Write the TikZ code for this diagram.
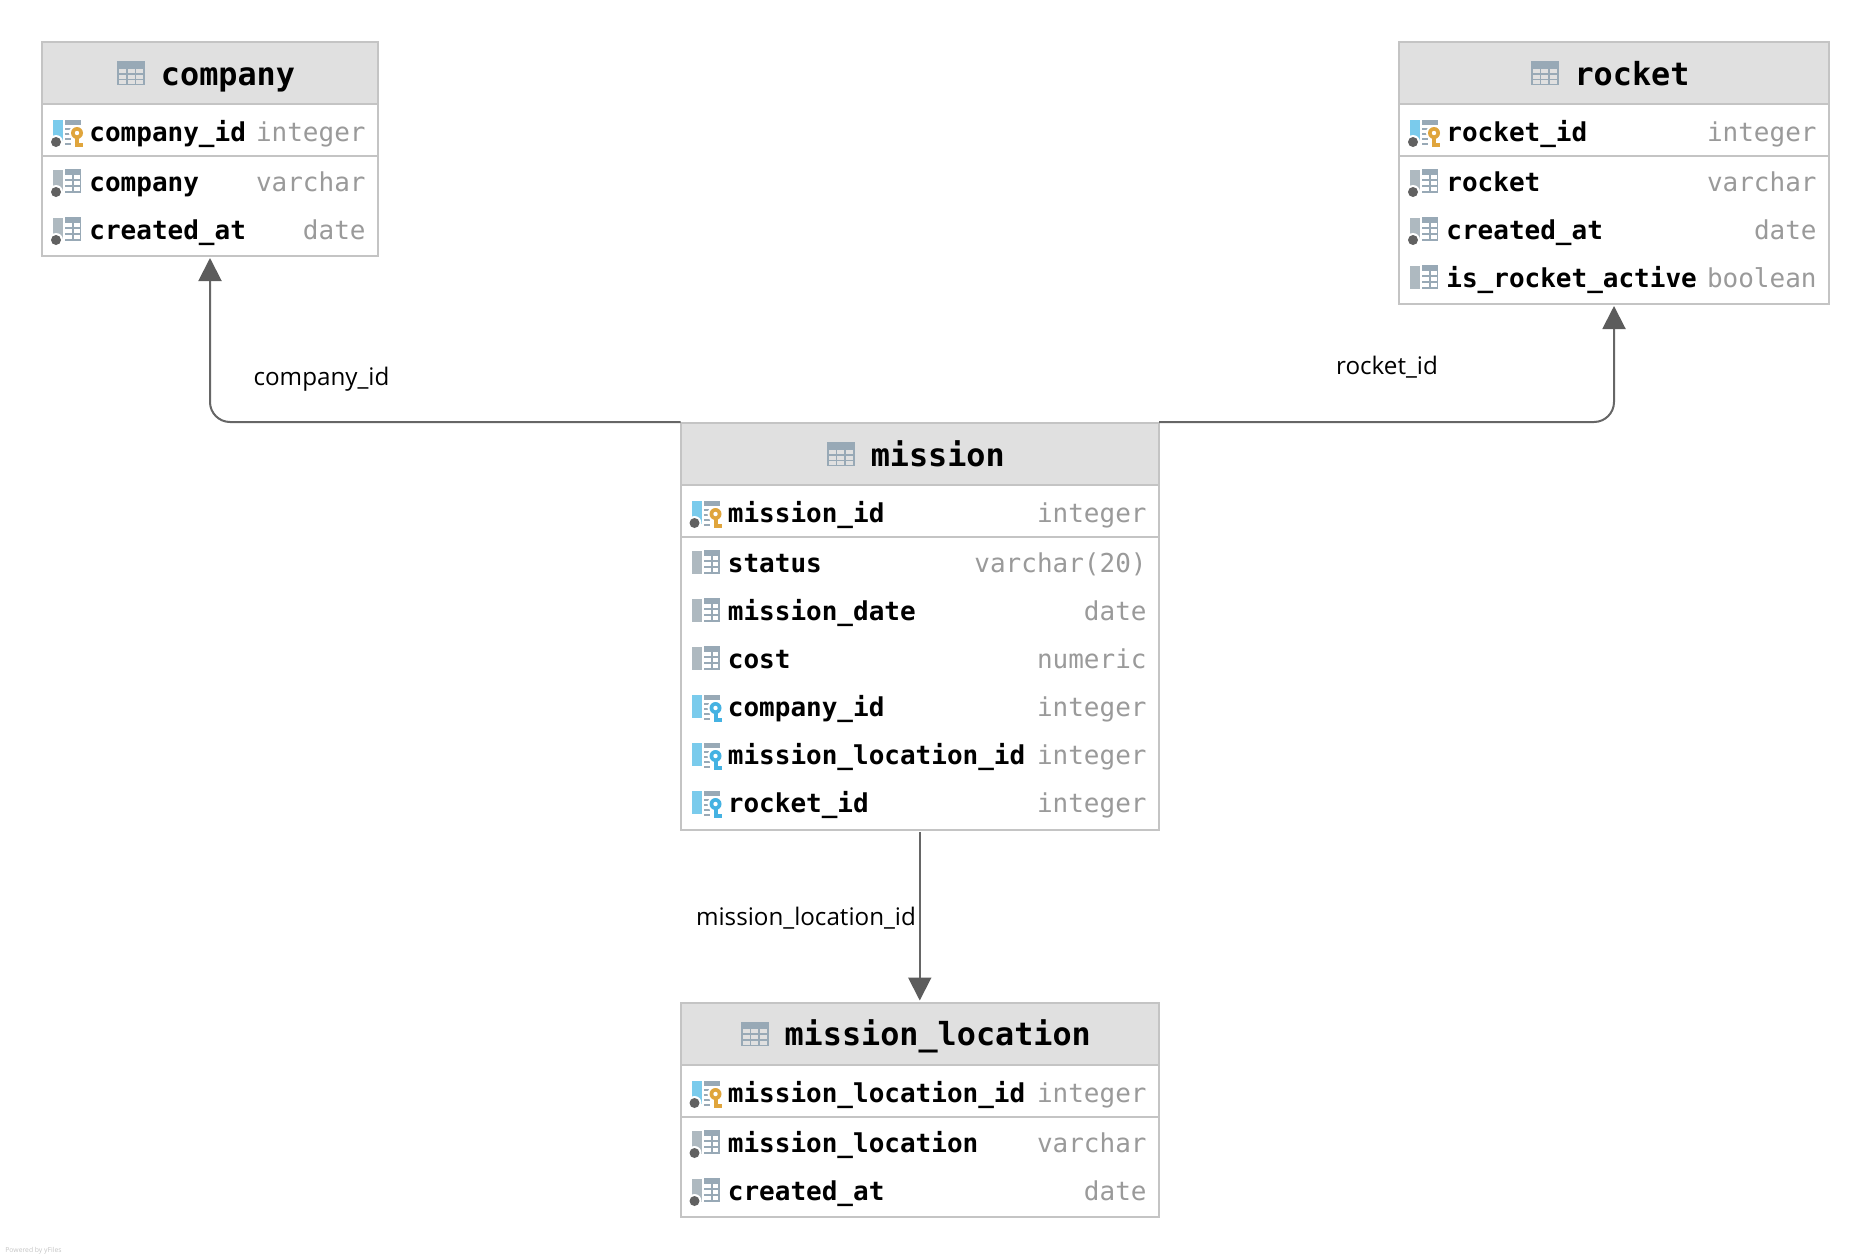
\documentclass[tikz,border=0pt]{standalone}
\usepackage{fontspec}
\usetikzlibrary{calc,arrows.meta}
\setmainfont{Open Sans}
\newfontfamily\erdmono{DejaVu Sans Mono}

\definecolor{boxgray}{HTML}{C4C4C4}
\definecolor{headgray}{HTML}{E0E0E0}
\definecolor{typegray}{HTML}{9A9A9A}
\definecolor{linkgray}{HTML}{666666}
\definecolor{tipgray}{HTML}{5C5C5C}
\definecolor{slate}{HTML}{98A9B6}
\definecolor{barslate}{HTML}{AEB9C0}
\definecolor{barblue}{HTML}{7ACBEC}
\definecolor{keygold}{HTML}{E0A53C}
\definecolor{keyblue}{HTML}{45B2E2}
\definecolor{dotgray}{HTML}{616161}

\tikzset{
  tablebody/.style={draw=boxgray,line width=1pt,fill=white,anchor=north west,inner sep=0pt,outer sep=0pt},
  tablehead/.style={tablebody,fill=headgray},
  titletext/.style={anchor=base,inner sep=0pt,font=\erdmono\bfseries\fontsize{15.9}{18}\selectfont},
  collabel/.style={anchor=base west,inner sep=0pt,font=\erdmono\bfseries\fontsize{13}{15}\selectfont},
  coltype/.style={anchor=base east,inner sep=0pt,text=typegray,font=\erdmono\fontsize{13}{15}\selectfont},
  fklink/.style={draw=linkgray,line width=1pt,rounded corners=10pt,shorten >=1pt,
    -{Triangle[length=11.5pt,width=11.5pt,color=tipgray]}},
  linklabel/.style={anchor=base,inner sep=0pt,font=\fontsize{12.1}{14}\selectfont},
}

% icon parts, origin at left edge of the table and baseline of the row
\newcommand{\colbar}[1]{\fill[#1] (11,-21) rectangle (21,2);}
\newcommand{\coldot}{\fill[white] (14,1) circle (7); \fill[dotgray] (14,1) circle (5);}
\newcommand{\colgrid}{
  \fill[slate] (23,-22) rectangle (39,2);
  \foreach \cy in {-16,-10,-4} {
    \fill[white] (23,\cy) rectangle (30,\cy+4);
    \fill[white] (32,\cy) rectangle (37.5,\cy+4);
  }
}
\newcommand{\colkey}[1]{
  \fill[slate] (23,-21) rectangle (39,-16);
  \foreach \cy in {-13,-8,-3,2} \fill[slate] (23,\cy) rectangle (29,\cy+1.5);
  \fill[white] (35,-8) circle (8);
  \fill[white] (31,-4) rectangle (43,8);
  \fill[#1] (35,-8) circle (6);
  \fill[#1] (33,-8) rectangle (37,6);
  \fill[#1] (37,2) rectangle (41,6);
  \fill[white] (35,-8) circle (2.2);
}
\newcommand{\iconpk}{\colbar{barblue}\colkey{keygold}\coldot}
\newcommand{\iconfk}{\colbar{barblue}\colkey{keyblue}}
\newcommand{\iconreq}{\colbar{barslate}\colgrid\coldot}
\newcommand{\iconcol}{\colbar{barslate}\colgrid}

% name, left, top, width, height, title
\newcommand{\dbtable}[6]{
  \node[tablebody,minimum width=#4*0.5pt,minimum height=#5*0.5pt] (#1) at (#2,#3) {};
  \node[tablebody,minimum width=#4*0.5pt,minimum height=114*0.5pt] (#1-key) at (#2,#3) {};
  \node[tablehead,minimum width=#4*0.5pt,minimum height=62*0.5pt] (#1-head) at (#2,#3) {};
  \node[titletext] (#1-title) at ($(#1.north)+(18,43)$) {#6};
  \begin{scope}[shift={($(#1-title.base west)+(-43.5,-24)$)}]
    \fill[slate] (0,0) rectangle (28,24);
    \foreach \cx in {2,10.5,19} \foreach \cy in {7.5,13.5,19} \fill[headgray] (\cx,\cy) rectangle (\cx+7,\cy+4);
  \end{scope}
}
% table, row, offset, icon, label, type
\newcommand{\dbrow}[6]{
  \begin{scope}[shift={($(#1.north west)+(0,#3)$)}] #4 \end{scope}
  \node[collabel] (#1-#2-lab) at ($(#1.north west)+(47,#3)$) {#5};
  \node[coltype] (#1-#2-typ) at ($(#1.north east)+(-12,#3)$) {#6};
}

\begin{document}
\begin{tikzpicture}[x=0.5pt,y=-0.5pt]
  \useasboundingbox (0,0) rectangle (1870,1258);

  \dbtable{company}{42}{42}{336}{214}{company}
  \dbrow{company}{a}{99}{\iconpk}{company\_id}{integer}
  \dbrow{company}{b}{149}{\iconreq}{company}{varchar}
  \dbrow{company}{c}{197}{\iconreq}{created\_at}{date}

  \dbtable{rocket}{1399}{42}{430}{262}{rocket}
  \dbrow{rocket}{a}{99}{\iconpk}{rocket\_id}{integer}
  \dbrow{rocket}{b}{149}{\iconreq}{rocket}{varchar}
  \dbrow{rocket}{c}{197}{\iconreq}{created\_at}{date}
  \dbrow{rocket}{d}{245}{\iconcol}{is\_rocket\_active}{boolean}

  \dbtable{mission}{680.5}{423}{478.5}{407}{mission}
  \dbrow{mission}{a}{99}{\iconpk}{mission\_id}{integer}
  \dbrow{mission}{b}{149}{\iconcol}{status}{varchar(20)}
  \dbrow{mission}{c}{197}{\iconcol}{mission\_date}{date}
  \dbrow{mission}{d}{245}{\iconcol}{cost}{numeric}
  \dbrow{mission}{e}{293}{\iconfk}{company\_id}{integer}
  \dbrow{mission}{f}{341}{\iconfk}{mission\_location\_id}{integer}
  \dbrow{mission}{g}{389}{\iconfk}{rocket\_id}{integer}

  \dbtable{location}{680.5}{1002.5}{478.5}{214.5}{mission\_location}
  \dbrow{location}{a}{99.5}{\iconpk}{mission\_location\_id}{integer}
  \dbrow{location}{b}{149.5}{\iconreq}{mission\_location}{varchar}
  \dbrow{location}{c}{197.5}{\iconreq}{created\_at}{date}

  \draw[fklink] ([yshift=0.5pt]mission.north west) -| (company.south);
  \draw[fklink] ([yshift=0.5pt]mission.north east) -| (rocket.south);
  \draw[fklink,shorten <=1pt] (mission.south) -- (location.north);

  \node[linklabel] (companylink) at (321.5,385) {company\_id};
  \node[linklabel] (rocketlink) at (1387,374.5) {rocket\_id};
  \node[linklabel] (locationlink) at (806,925) {mission\_location\_id};

  \node[anchor=base west,inner sep=0pt,text=boxgray,font=\fontsize{3.4}{4}\selectfont] (poweredby) at (5,1252) {Powered by yFiles};
\end{tikzpicture}
\end{document}
